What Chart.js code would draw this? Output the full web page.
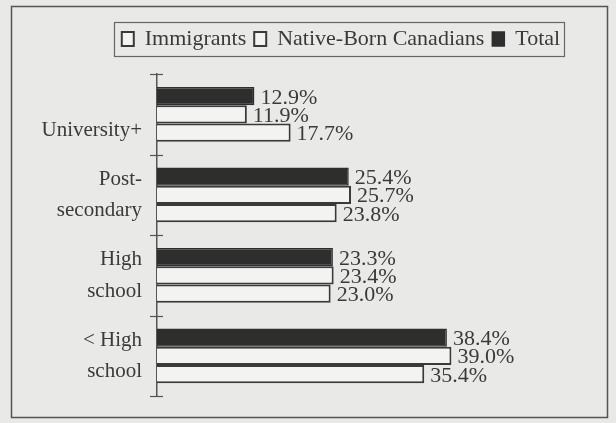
<!DOCTYPE html>
<html><head><meta charset="utf-8">
<script src="https://cdn.jsdelivr.net/npm/chart.js@4/dist/chart.umd.min.js"></script>
<style>html,body{margin:0;padding:0;background:#e9e9e7;overflow:hidden}</style>
</head><body>
<canvas id="c" width="616" height="423" style="display:block;width:616px;height:423px"></canvas>
<script>
const categories = ['University+', 'Post-secondary', 'High school', '< High school'];
const tickLabels = [['', 'University+'], ['Post-', 'secondary'], ['High', 'school'], ['< High', 'school']];
const seriesNames = ['Total', 'Native-Born Canadians', 'Immigrants'];
const totalValues = [12.9, 25.4, 23.3, 38.4];
const nativeBornValues = [11.9, 25.7, 23.4, 39.0];
const immigrantValues = [17.7, 23.8, 23.0, 35.4];

const SERIF = "'Liberation Serif', 'DejaVu Serif', serif";
const INK = '#3a3a3a';
const BG = '#e9e9e7';

const framePlugin = {
  id: 'frame',
  beforeDraw(chart) {
    const ctx = chart.ctx;
    ctx.save();
    ctx.fillStyle = BG;
    ctx.fillRect(0, 0, chart.width, chart.height);
    ctx.strokeStyle = '#555';
    ctx.lineWidth = 1.5;
    ctx.strokeRect(11.5, 6.5, 596, 411);
    ctx.restore();
  },
  afterDraw(chart) {
    const ctx = chart.ctx;
    const lg = chart.legend;
    if (lg && lg.legendHitBoxes && lg.legendHitBoxes.length) {
      const hb = lg.legendHitBoxes;
      let l = Infinity, r = -Infinity, t = Infinity, b = -Infinity;
      hb.forEach(h => { l = Math.min(l, h.left); r = Math.max(r, h.left + h.width); t = Math.min(t, h.top); b = Math.max(b, h.top + h.height); });
      ctx.save();
      ctx.strokeStyle = '#666';
      ctx.lineWidth = 1.2;
      ctx.strokeRect(Math.round(l - 8) + 0.5, Math.round(t - 6) + 0.5, Math.round(r - l + 12), Math.round(b - t + 12));
      ctx.restore();
    }
    // category boundary ticks
    const ys = chart.scales.y;
    const ax = chart.chartArea.left;
    ctx.save();
    ctx.strokeStyle = '#555';
    ctx.lineWidth = 1.2;
    for (let i = 0; i <= categories.length; i++) {
      const y = Math.round(ys.getPixelForValue(i - 0.5)) + 0.5;
      ctx.beginPath();
      ctx.moveTo(ax - 7, y);
      ctx.lineTo(ax + 6, y);
      ctx.stroke();
    }
    ctx.restore();
  },
  afterDatasetsDraw(chart) {
    const ctx = chart.ctx;
    ctx.save();
    ctx.font = '22px ' + SERIF;
    ctx.fillStyle = INK;
    ctx.textAlign = 'left';
    ctx.textBaseline = 'alphabetic';
    chart.data.datasets.forEach((ds, di) => {
      const meta = chart.getDatasetMeta(di);
      meta.data.forEach((bar, i) => {
        ctx.fillText(ds.data[i].toFixed(1) + '%', bar.x + 6, bar.y + 7.5);
      });
    });
    ctx.restore();
  }
};

new Chart(document.getElementById('c'), {
  type: 'bar',
  data: {
    labels: tickLabels,
    datasets: [
      { label: seriesNames[0], data: totalValues, backgroundColor: '#2e2e2e', borderColor: '#2e2e2e', borderWidth: 1.5 },
      { label: seriesNames[1], data: nativeBornValues, backgroundColor: '#f3f3f1', borderColor: '#3a3a3a', borderWidth: 2 },
      { label: seriesNames[2], data: immigrantValues, backgroundColor: '#f3f3f1', borderColor: '#3a3a3a', borderWidth: 2 }
    ]
  },
  options: {
    indexAxis: 'y',
    responsive: false,
    animation: false,
    devicePixelRatio: 1,
    categoryPercentage: 0.68,
    barPercentage: 1.0,
    layout: { padding: { top: 20, left: 30, right: -36, bottom: 27 } },
    scales: {
      x: { display: false, min: 0, max: 60.8 },
      y: {
        grid: { display: false, drawTicks: false },
        border: { display: true, color: '#555', width: 1.5 },
        ticks: { color: INK, font: { family: SERIF, size: 21, lineHeight: 1.5 }, padding: 15 },
        afterFit(scale) { scale.width = 127; scale.paddingTop = 0; scale.paddingBottom = 0; }
      }
    },
    plugins: {
      tooltip: { enabled: false },
      title: { display: true, text: '', weight: 500, padding: { top: 0, bottom: 7 }, font: { size: 6 } },
      legend: {
        position: 'top',
        reverse: true,
        labels: { color: INK, font: { family: SERIF, size: 22 }, boxWidth: 12, boxHeight: 14, padding: 8 }
      }
    }
  },
  plugins: [framePlugin]
});
</script>
</body></html>
